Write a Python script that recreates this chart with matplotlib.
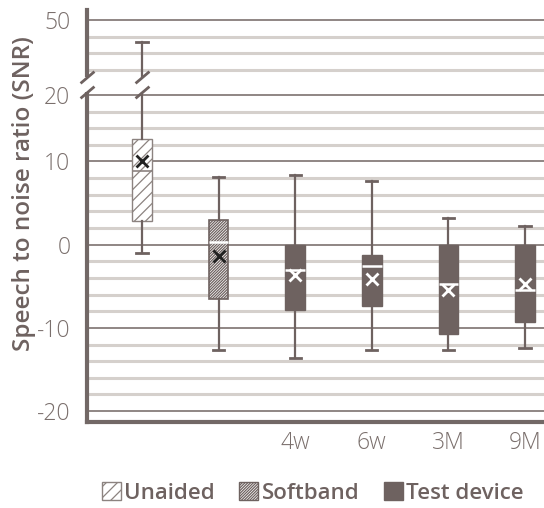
import numpy as np
import matplotlib
matplotlib.use("Agg")
import matplotlib.pyplot as plt
from matplotlib.patches import Patch, Rectangle
from matplotlib.transforms import blended_transform_factory

# ---------------- data ----------------
categories = ["Unaided", "Softband", "4w", "6w", "3M", "9M"]
x_tick_labels = ["", "", "4w", "6w", "3M", "9M"]
whisker_low = [-1.0, -12.6, -13.6, -12.6, -12.6, -12.4]
q1_values = [2.8, -6.5, -7.9, -7.4, -10.7, -9.3]
median_values = [8.8, 0.3, -3.0, -2.6, -4.7, -5.5]
q3_values = [13.4, 3.0, 0.0, -1.2, 0.0, 0.0]
whisker_high = [41.0, 8.1, 8.4, 7.7, 3.2, 2.3]
mean_values = [10.0, -1.4, -3.7, -4.1, -5.4, -4.7]
y_major_values = [-20, -10, 0, 10, 20, 50]
y_major_labels = ["-20", "-10", "0", "10", "20", "50"]
legend_labels = ["Unaided", "Softband", "Test device"]

# broken-axis scale: real value -> display value
BRK_REAL = [-1000.0, 10.0, 20.0, 50.0, 1000.0]
BRK_FAKE = [-1000.0, 10.0, 18.0, 27.0, 27.0 + 950.0 * 0.3]

def fwd(v):
    return np.interp(v, BRK_REAL, BRK_FAKE)

def inv(v):
    return np.interp(v, BRK_FAKE, BRK_REAL)

DARK = "#6e6260"
GRID_MAJOR = "#7d7270"
GRID_MINOR = "#d5d0cc"
TEXT = "#6e6260"
TICK_TEXT = "#7a6f6c"
LIGHT_EDGE = "#8c8380"

plt.rcParams["font.family"] = ["Open Sans", "DejaVu Sans"]
plt.rcParams["hatch.linewidth"] = 0.9

fig = plt.figure(figsize=(5.44, 5.08), dpi=100)
W, H = 544, 508
ax_left_px, ax_top_px, ax_bottom_px = 87, 10, 421.7
ax = fig.add_axes([ax_left_px / W, (H - ax_bottom_px) / H, 1 - ax_left_px / W,
                   (ax_bottom_px - ax_top_px) / H])
ax.set_yscale("function", functions=(fwd, inv))
ax.set_ylim(-21.27, float(inv(28.2)))
ax.set_xlim(-0.718, 5.248)

# gridlines
for v in y_major_values:
    ax.axhline(v, color=GRID_MAJOR, lw=1.2, zorder=0.6)
minor_fake = [f for f in np.arange(-18, 17, 2) if f % 10 != 0] + [21, 23, 25]
for f in minor_fake:
    ax.axhline(float(inv(f)), color=GRID_MINOR, lw=2.2, zorder=0.5)

stats = []
for i in range(len(categories)):
    stats.append(dict(whislo=whisker_low[i], q1=q1_values[i], med=median_values[i],
                      q3=q3_values[i], whishi=whisker_high[i], mean=mean_values[i],
                      fliers=[], label=categories[i]))

bp = ax.bxp(stats, positions=range(len(categories)), widths=0.255, capwidths=0.145,
            showmeans=True, patch_artist=True, showfliers=False,
            whiskerprops=dict(color=DARK, lw=1.6),
            capprops=dict(color=DARK, lw=2.0),
            manage_ticks=False, zorder=3)

for i, box in enumerate(bp["boxes"]):
    if i == 0:
        box.set_facecolor("white")
        box.set_edgecolor(LIGHT_EDGE)
        box.set_hatch("///")
        box.set_linewidth(1.0)
    elif i == 1:
        box.set_facecolor("white")
        box.set_edgecolor(DARK)
        box.set_hatch("////////////")
        box.set_linewidth(1.2)
    else:
        box.set_facecolor(DARK)
        box.set_edgecolor(DARK)
        box.set_linewidth(1.0)
for i, med in enumerate(bp["medians"]):
    if i == 0:
        med.set_color(LIGHT_EDGE)
        med.set_linewidth(1.2)
    else:
        med.set_color("white")
        med.set_linewidth(1.8)
for i, mn in enumerate(bp["means"]):
    c = "#222222" if i < 2 else "white"
    mn.set_marker("x")
    mn.set_markersize(9)
    mn.set_markeredgewidth(2.0)
    mn.set_markeredgecolor(c)
    mn.set_zorder(4)

# spines
for s in ["top", "right"]:
    ax.spines[s].set_visible(False)
for s in ["left", "bottom"]:
    ax.spines[s].set_color("#726866")
    ax.spines[s].set_linewidth(3)

# axis break
blend = blended_transform_factory(ax.transAxes, ax.transData)
lo, hi = float(inv(18.3)), float(inv(20.2))
ax.add_patch(Rectangle((-0.015, lo), 1.02, hi - lo, transform=blend, facecolor="white",
                       edgecolor="none", zorder=5, clip_on=False))
slash = [(-1, -0.85), (1, 0.85)]
for y in (lo, hi):
    ax.plot([0], [y], transform=blend, marker=slash, markersize=10, mew=2,
            color=DARK, zorder=6, clip_on=False, ls="none")
    ax.plot([0], [y], marker=slash, markersize=10, mew=2, color=DARK, zorder=6,
            clip_on=False, ls="none")

# ticks
ax.set_yticks(y_major_values)
ax.set_yticklabels(y_major_labels)
ax.yaxis.set_minor_locator(matplotlib.ticker.NullLocator())
ax.set_xticks(range(len(categories)))
ax.set_xticklabels(x_tick_labels)
ax.tick_params(axis="both", length=0, labelsize=16.5, labelcolor=TICK_TEXT)
for lab in ax.get_xticklabels() + ax.get_yticklabels():
    lab.set_fontweight("light")
ax.tick_params(axis="y", pad=12)
ax.tick_params(axis="x", pad=7)
ax.set_ylabel("Speech to noise ratio (SNR)", fontsize=17.5, fontweight="semibold",
              color=TEXT)
ax.yaxis.set_label_coords(-0.112, 0.553)

handles = [Patch(facecolor="white", edgecolor=LIGHT_EDGE, hatch="///", lw=1.0),
           Patch(facecolor="white", edgecolor=DARK, hatch="////////////", lw=1.0),
           Patch(facecolor=DARK, edgecolor=DARK, lw=1.0)]
leg = fig.legend(handles, legend_labels, loc="center", bbox_to_anchor=(0.575, 0.029),
                 ncol=3, frameon=False, handlelength=0.85, handleheight=0.85,
                 handletextpad=0.15, columnspacing=1.1,
                 prop=dict(size=16, weight="semibold"))
for t in leg.get_texts():
    t.set_color(TEXT)

fig.savefig("out.png", dpi=100)
